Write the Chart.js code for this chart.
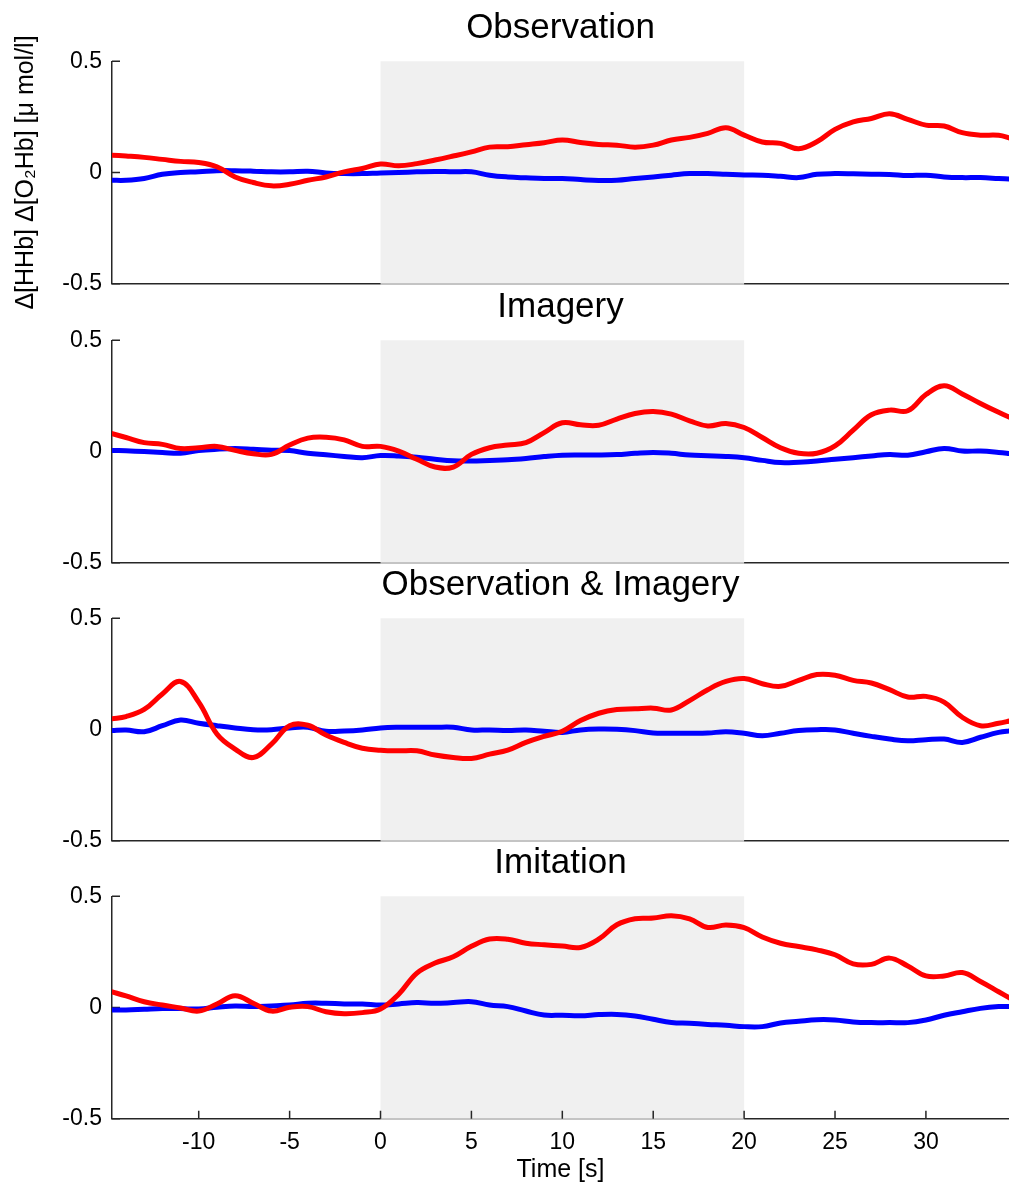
<!DOCTYPE html>
<html>
<head>
<meta charset="utf-8">
<script src="https://cdn.jsdelivr.net/npm/chart.js@4.4.1/dist/chart.umd.min.js"></script>
<style>
  html, body { margin: 0; padding: 0; background: #fff; overflow: hidden; }
  #wrap { position: relative; width: 1009px; height: 1185px; }
  canvas { position: absolute; left: 0; }
</style>
</head>
<body>
<div id="wrap">
  <canvas id="p0" width="1009" height="350" style="top:0px"></canvas>
  <canvas id="p1" width="1009" height="350" style="top:278.7px"></canvas>
  <canvas id="p2" width="1009" height="350" style="top:557px"></canvas>
  <canvas id="p3" width="1009" height="350" style="top:835.4px"></canvas>
</div>
<script>
// time axis [s], sampled once a second plus both window edges
const times = [-14.8, -14, -13, -12, -11, -10, -9, -8, -7, -6, -5, -4, -3, -2, -1,
  0, 1, 2, 3, 4, 5, 6, 7, 8, 9, 10, 11, 12, 13, 14, 15, 16, 17, 18, 19, 20,
  21, 22, 23, 24, 25, 26, 27, 28, 29, 30, 31, 32, 33, 34, 34.7];

const panelTitles = ["Observation", "Imagery", "Observation & Imagery", "Imitation"];

// red = O2Hb, blue = HHb
const obsO2Hb = [0.078, 0.074, 0.068, 0.059, 0.050, 0.045, 0.026, -0.020, -0.045, -0.060, -0.053, -0.035, -0.020, 0.003, 0.018,
  0.038, 0.030, 0.040, 0.056, 0.074, 0.093, 0.114, 0.116, 0.125, 0.134, 0.146, 0.135, 0.126, 0.123, 0.114, 0.123,
  0.146, 0.158, 0.176, 0.201, 0.168, 0.137, 0.131, 0.107, 0.138, 0.194, 0.228, 0.243, 0.264, 0.239, 0.213,
  0.209, 0.179, 0.168, 0.167, 0.153];
const obsHHb = [-0.035, -0.035, -0.027, -0.008, 0, 0.003, 0.008, 0.008, 0.006, 0.003, 0.003, 0.006, -0.002, -0.005, -0.005,
  -0.002, 0, 0.003, 0.005, 0.003, 0.003, -0.012, -0.020, -0.024, -0.027, -0.027, -0.032, -0.036, -0.035, -0.027, -0.020,
  -0.012, -0.005, -0.005, -0.008, -0.011, -0.012, -0.017, -0.023, -0.008, -0.005, -0.006, -0.008, -0.009, -0.014, -0.012,
  -0.020, -0.023, -0.023, -0.027, -0.030];

const imgO2Hb = [0.081, 0.063, 0.040, 0.032, 0.013, 0.017, 0.023, 0.005, -0.010, -0.013, 0.029, 0.060, 0.064, 0.052, 0.023,
  0.023, 0.002, -0.035, -0.070, -0.070, -0.013, 0.017, 0.029, 0.040, 0.085, 0.129, 0.120, 0.118, 0.146, 0.171, 0.180,
  0.168, 0.138, 0.115, 0.126, 0.108, 0.063, 0.017, -0.008, -0.008, 0.025, 0.096, 0.165, 0.186, 0.183, 0.256,
  0.296, 0.259, 0.216, 0.176, 0.150];
const imgHHb = [0.005, 0.003, 0, -0.004, -0.008, 0.004, 0.010, 0.013, 0.010, 0.006, 0.004, -0.008, -0.015, -0.022, -0.028,
  -0.018, -0.020, -0.026, -0.035, -0.042, -0.043, -0.040, -0.037, -0.031, -0.023, -0.017, -0.016, -0.016, -0.014, -0.008, -0.004,
  -0.008, -0.016, -0.019, -0.022, -0.028, -0.040, -0.050, -0.048, -0.043, -0.035, -0.028, -0.020, -0.013, -0.017, -0.001,
  0.014, 0.002, 0.002, -0.004, -0.010];

const obsImgO2Hb = [0.048, 0.058, 0.090, 0.160, 0.216, 0.123, -0.020, -0.088, -0.126, -0.066, 0.017, 0.019, -0.025, -0.058, -0.084,
  -0.093, -0.096, -0.096, -0.115, -0.126, -0.130, -0.111, -0.093, -0.058, -0.031, -0.008, 0.040, 0.073, 0.090, 0.093, 0.096,
  0.088, 0.130, 0.179, 0.216, 0.229, 0.206, 0.194, 0.221, 0.247, 0.244, 0.221, 0.209, 0.179, 0.146, 0.149,
  0.123, 0.055, 0.017, 0.028, 0.040];
const obsImgHHb = [-0.005, -0.002, -0.010, 0.017, 0.043, 0.028, 0.017, 0.007, -0.001, -0.001, 0.007, 0.010, -0.008, -0.007, -0.002,
  0.007, 0.010, 0.010, 0.010, 0.010, -0.002, -0.002, -0.004, -0.002, -0.008, -0.013, -0.002, 0.002, 0.001, -0.005, -0.016,
  -0.017, -0.017, -0.016, -0.010, -0.017, -0.028, -0.017, -0.005, -0.001, -0.002, -0.017, -0.031, -0.043, -0.051, -0.046,
  -0.043, -0.058, -0.035, -0.013, -0.005];

const imiO2Hb = [0.071, 0.052, 0.026, 0.011, -0.002, -0.016, 0.016, 0.053, 0.019, -0.016, 0.001, 0.004, -0.019, -0.028, -0.023,
  -0.007, 0.060, 0.155, 0.200, 0.228, 0.275, 0.308, 0.307, 0.289, 0.282, 0.276, 0.270, 0.307, 0.372, 0.399, 0.402,
  0.413, 0.399, 0.360, 0.371, 0.359, 0.317, 0.289, 0.274, 0.259, 0.237, 0.196, 0.194, 0.222, 0.187, 0.142,
  0.142, 0.157, 0.117, 0.071, 0.038];
const imiHHb = [-0.011, -0.011, -0.008, -0.005, -0.005, -0.007, 0.001, 0.007, 0.004, 0.007, 0.011, 0.019, 0.019, 0.016, 0.016,
  0.011, 0.016, 0.022, 0.019, 0.022, 0.026, 0.011, 0.004, -0.016, -0.034, -0.035, -0.037, -0.032, -0.031, -0.038, -0.053,
  -0.067, -0.071, -0.076, -0.080, -0.086, -0.086, -0.070, -0.062, -0.055, -0.056, -0.065, -0.068, -0.068, -0.068, -0.056,
  -0.035, -0.019, -0.004, 0.004, 0.004];

const o2hbSeries = [obsO2Hb, imgO2Hb, obsImgO2Hb, imiO2Hb];
const hhbSeries = [obsHHb, imgHHb, obsImgHHb, imiHHb];

const xTicks = [-10, -5, 0, 5, 10, 15, 20, 25, 30];
const yTicks = [-0.5, 0, 0.5];
const stimStart = 0, stimEnd = 20;
const xMin = -14.77, xMax = 34.57;

const axisColor = "#262626";
const fontFamily = "'Liberation Sans', Arial, Helvetica, sans-serif";

const toPoints = values => values.map((v, i) => ({ x: times[i], y: v }));

// grey task window + MATLAB style inward ticks
const taskWindow = {
  id: "taskWindow",
  beforeDatasetsDraw(chart, args, opts) {
    const { ctx, chartArea, scales: { x, y } } = chart;
    const left = x.getPixelForValue(stimStart);
    const right = x.getPixelForValue(stimEnd);
    const top = y.getPixelForValue(yTicks[yTicks.length - 1]);
    const bottom = y.getPixelForValue(yTicks[0]);
    ctx.save();
    ctx.fillStyle = "rgba(236,236,236,0.8)";
    ctx.fillRect(left, top, right - left, bottom - top + 1);
    ctx.strokeStyle = axisColor;
    ctx.lineWidth = 1.5;
    ctx.beginPath();
    yTicks.forEach(v => {
      const py = y.getPixelForValue(v);
      ctx.moveTo(chartArea.left, py);
      ctx.lineTo(chartArea.left + 8, py);
    });
    if (opts.xTicks) {
      xTicks.forEach(v => {
        const px = x.getPixelForValue(v);
        ctx.moveTo(px, chartArea.bottom);
        ctx.lineTo(px, chartArea.bottom - 8);
      });
    }
    ctx.stroke();
    ctx.restore();
  }
};

panelTitles.forEach((title, i) => {
  const last = i === panelTitles.length - 1;
  new Chart(document.getElementById("p" + i), {
    type: "line",
    data: {
      datasets: [
        {
          label: "O2Hb",
          data: toPoints(o2hbSeries[i]),
          borderColor: "#ff0000",
          borderWidth: 5,
          pointRadius: 0,
          tension: 0.4,
          fill: false
        },
        {
          label: "HHb",
          data: toPoints(hhbSeries[i]),
          borderColor: "#0000ff",
          borderWidth: 5,
          pointRadius: 0,
          tension: 0.4,
          fill: false
        }
      ]
    },
    options: {
      responsive: false,
      animation: false,
      events: [],
      layout: { padding: 0 },
      plugins: {
        legend: { display: false },
        tooltip: { enabled: false },
        title: {
          display: true,
          text: title,
          fullSize: false,
          color: "#000",
          font: { family: fontFamily, size: 35, weight: "normal" },
          padding: { top: 7, bottom: 12.3 }
        },
        taskWindow: { xTicks: last }
      },
      scales: {
        x: {
          type: "linear",
          min: xMin,
          max: xMax,
          afterFit: s => { s.height = 66.3; },
          afterBuildTicks: s => { s.ticks = xTicks.map(v => ({ value: v })); },
          grid: { display: false, drawTicks: false },
          border: { display: true, color: axisColor, width: 1.5 },
          ticks: {
            display: last,
            padding: 10,
            color: "#000",
            maxRotation: 0,
            autoSkip: false,
            font: { family: fontFamily, size: 23 },
            callback: v => String(v)
          },
          title: {
            display: last,
            text: "Time [s]",
            color: "#000",
            font: { family: fontFamily, size: 25 },
            padding: { top: 0, bottom: 0 }
          }
        },
        y: {
          min: yTicks[0],
          max: yTicks[yTicks.length - 1],
          afterFit: s => { s.width = 112; },
          afterBuildTicks: s => { s.ticks = yTicks.map(v => ({ value: v })); },
          grid: { display: false, drawTicks: false },
          border: { display: true, color: axisColor, width: 1.5 },
          ticks: {
            padding: 10,
            color: "#000",
            font: { family: fontFamily, size: 23 },
            callback: v => String(v)
          },
          title: {
            display: i === 0,
            text: "\u0394[HHb] \u0394[O\u2082Hb] [\u03bc mol/l]",
            color: "#000",
            font: { family: fontFamily, size: 25 },
            padding: { top: 11, bottom: 0 }
          }
        }
      }
    },
    plugins: [taskWindow]
  });
});
</script>
</body>
</html>
